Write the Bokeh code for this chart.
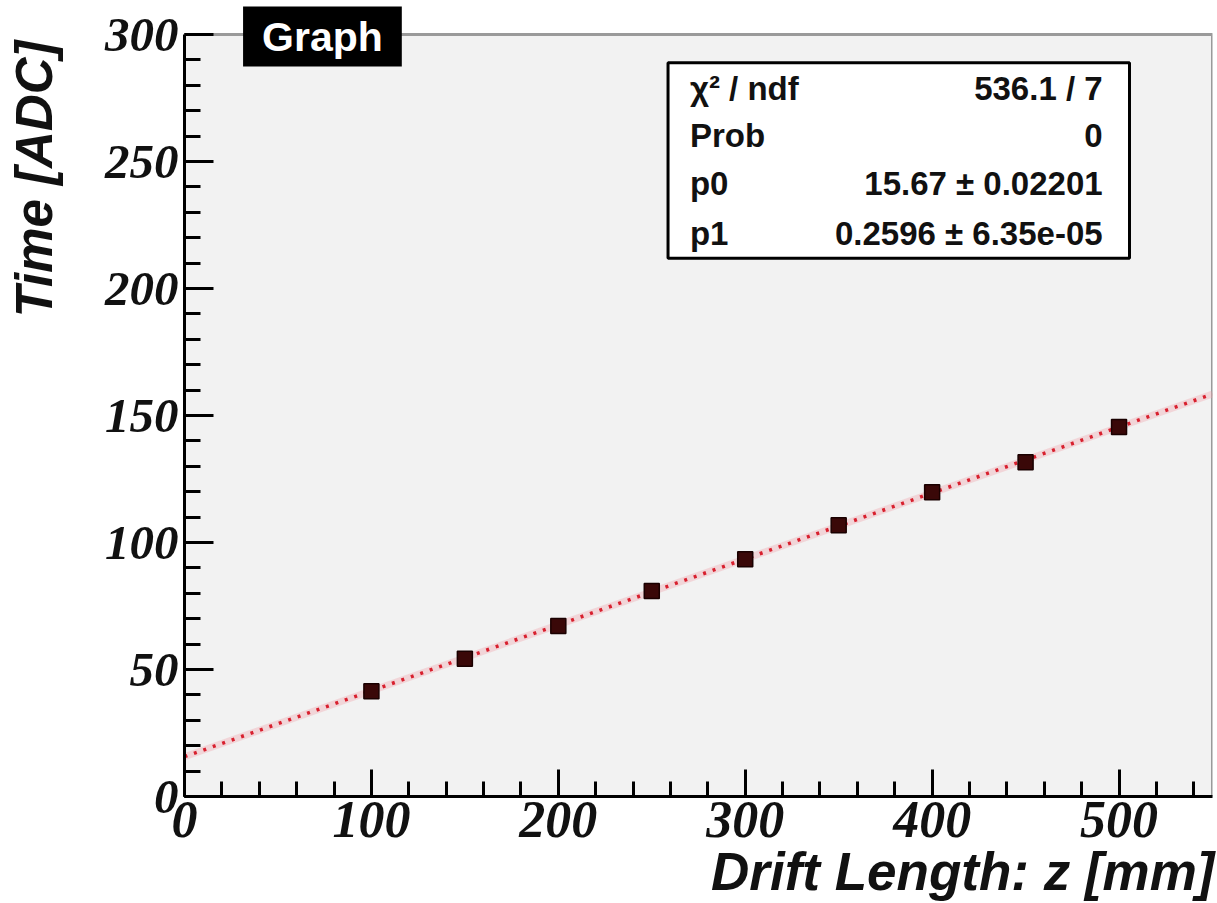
import numpy as np
from bokeh.plotting import figure
from bokeh.models import Range1d, SingleIntervalTicker, Label, BoxAnnotation, Title
from bokeh.embed import file_html
from bokeh.resources import INLINE

# ---- data ----
drift_length = [100, 150, 200, 250, 300, 350, 400, 450, 500]
time_adc = [41.4, 54.2, 67.1, 80.9, 93.4, 106.8, 119.8, 131.6, 145.5]
fit_p0 = 15.67
fit_p1 = 0.2596
stat_names = ["χ² / ndf", "Prob", "p0", "p1"]
stat_values = ["536.1 / 7", "0", "15.67 ± 0.02201", "0.2596 ± 6.35e-05"]
graph_title = "Graph"
x_title = "Drift Length: z [mm]"
y_title = "Time [ADC]"
x_min, x_max = 0, 550
y_min, y_max = 0, 300
# the frame reaches the top of the page so the title box can overlap it;
# the visible axis only spans y_min..y_max
y_view_max = 313.4

p = figure(width=1217, height=903, title_location=None,
           x_range=Range1d(x_min, x_max), y_range=Range1d(y_min, y_view_max),
           output_backend="svg", toolbar_location=None,
           min_border_left=184, min_border_right=5,
           min_border_top=0, min_border_bottom=107)
p.background_fill_color = "white"
p.border_fill_color = "white"
p.outline_line_color = None
p.grid.visible = False

# grey plot pad with grey top/right border
pad = BoxAnnotation(left=x_min, right=x_max, bottom=y_min, top=y_max,
                    fill_color="#f2f2f2", fill_alpha=1.0,
                    line_color="#9a9a9a", line_width=3, line_alpha=1.0,
                    level="underlay")
p.add_layout(pad)

p.xaxis.ticker = SingleIntervalTicker(interval=100, num_minor_ticks=5)
p.yaxis.ticker = SingleIntervalTicker(interval=50, num_minor_ticks=5)
p.yaxis.bounds = (y_min, y_max)

for ax, maj, mnr in ((p.xaxis, 27, 15), (p.yaxis, 29, 16)):
    ax.axis_line_width = 3
    ax.axis_line_color = "black"
    ax.major_tick_in = maj
    ax.major_tick_out = 0
    ax.minor_tick_in = mnr
    ax.minor_tick_out = 0
    ax.major_tick_line_width = 3
    ax.minor_tick_line_width = 3
    ax.major_tick_line_color = "black"
    ax.minor_tick_line_color = "black"
    ax.major_label_text_font = "Liberation Serif"
    ax.major_label_text_font_style = "bold italic"
    ax.major_label_text_color = "#111111"
p.xaxis.major_label_text_font_size = "52px"
p.yaxis.major_label_text_font_size = "49px"
p.xaxis.major_label_standoff = 5
p.yaxis.major_label_standoff = 6
# blank spacer label pushes the y title outward
p.yaxis.axis_label = " "
p.yaxis.axis_label_text_font_size = "10px"
p.yaxis.axis_label_standoff = 18

# axis titles (right / top aligned as in ROOT)
p.add_layout(Title(text=x_title, align="right", text_font="Liberation Sans",
                   text_font_style="bold italic", text_font_size="53px",
                   text_color="#111111", standoff=0, offset=-2), "below")
p.add_layout(Title(text=y_title, align="right", vertical_align="top",
                   text_font="Liberation Sans",
                   text_font_style="bold italic", text_font_size="51px",
                   text_color="#111111", standoff=10, offset=40), "left")

# fit line from the fit parameters
fx = np.array([x_min, x_max], dtype=float)
fy = fit_p0 + fit_p1 * fx
p.line(fx, fy, line_color="#f0a0a8", line_width=7, line_alpha=0.35)
p.line(fx, fy, line_color="#d8202e", line_width=3.5, line_dash="3 7")

# data points
p.scatter(drift_length, time_adc, marker="square", size=15,
          fill_color="#3a0808", line_color="#1a0000", line_width=1.5)

# stats box
box = BoxAnnotation(left=258.7, right=505.6, top=288.9, bottom=211.9,
                    fill_color="white", fill_alpha=1.0,
                    line_color="black", line_width=3, line_alpha=1.0)
p.add_layout(box)
row_y = [278.7, 260.1, 241.5, 221.7]
for name, val, yy in zip(stat_names, stat_values, row_y):
    p.add_layout(Label(x=270.4, y=yy, text=name, text_align="left",
                       text_baseline="middle", text_font="Liberation Sans",
                       text_font_style="bold", text_font_size="33px",
                       text_color="#111111"))
    p.add_layout(Label(x=491.2, y=yy, text=val, text_align="right",
                       text_baseline="middle", text_font="Liberation Sans",
                       text_font_style="bold", text_font_size="33px",
                       text_color="#111111"))

# title box "Graph"
p.add_layout(Label(x=73.8, y=299.2, text=graph_title, text_align="center",
                   text_baseline="middle", text_font="Liberation Sans",
                   text_font_style="bold", text_font_size="41px",
                   text_color="white", background_fill_color="black",
                   background_fill_alpha=1.0,
                   padding=dict(left=19, right=19, top=7, bottom=7)))

open("out.html", "w").write(file_html(p, INLINE))
